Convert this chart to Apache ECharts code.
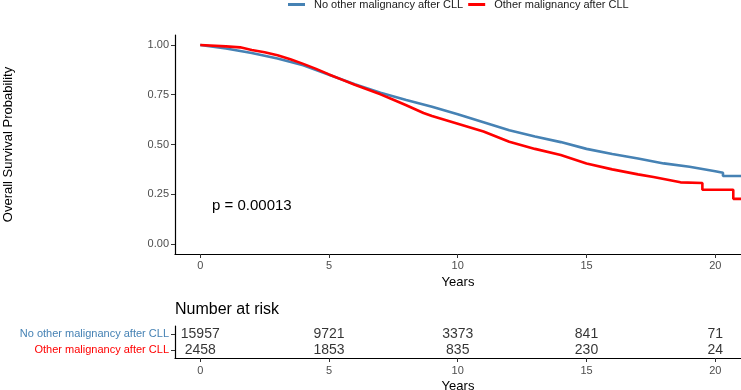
<!DOCTYPE html>
<html>
<head>
<meta charset="utf-8">
<script src="https://cdn.jsdelivr.net/npm/echarts@6/dist/echarts.min.js"></script>
<style>
  html, body { margin: 0; padding: 0; background: #fff; }
  #chart { width: 741px; height: 390px; }
</style>
</head>
<body>
<div id="chart"></div>
<script>
// survival curves (years, probability)
var noOtherTimes = [0, 1, 2, 3, 4, 5, 6, 7, 8, 9, 10, 11, 12, 13, 14, 15, 16, 17, 18, 19, 20, 20.3, 20.3, 21.05];
var noOtherSurv  = [1.0, 0.982, 0.96, 0.932, 0.898, 0.85, 0.803, 0.76, 0.724, 0.69, 0.652, 0.612, 0.572, 0.54, 0.512, 0.478, 0.452, 0.43, 0.405, 0.388, 0.366, 0.358, 0.342, 0.342];

var otherTimes = [0, 1, 1.55, 2, 2.5, 3, 3.5, 4, 4.5, 5, 5.5, 6, 6.5, 7, 7.5, 8, 8.67, 9, 10, 11, 12, 13, 14, 15, 16, 17, 17.6, 18.65, 19.5, 19.5, 20.7, 20.7, 21.05];
var otherSurv  = [1.0, 0.993, 0.988, 0.975, 0.963, 0.948, 0.928, 0.905, 0.88, 0.852, 0.826, 0.8, 0.776, 0.752, 0.725, 0.697, 0.658, 0.643, 0.604, 0.565, 0.514, 0.478, 0.447, 0.405, 0.375, 0.35, 0.337, 0.31, 0.307, 0.273, 0.273, 0.227, 0.227];

// number at risk table
var groups = ['No other malignancy after CLL', 'Other malignancy after CLL'];
var riskTimes = [0, 5, 10, 15, 20];
var riskNoOther = [15957, 9721, 3373, 841, 71];
var riskOther = [2458, 1853, 835, 230, 24];

var yTicks = [0, 0.25, 0.5, 0.75, 1];
var xTicks = [0, 5, 10, 15, 20];
var pText = 'p = 0.00013';

var blue = '#4682B4';
var red = '#FF0000';
var font = 'Liberation Sans, Arial, sans-serif';

function pairs(xs, ys) {
    var out = [];
    for (var i = 0; i < xs.length; i++) out.push([xs[i], ys[i]]);
    return out;
}

var riskData = [];
for (var i = 0; i < riskTimes.length; i++) {
    riskData.push([riskTimes[i], groups[0], riskNoOther[i]]);
    riskData.push([riskTimes[i], groups[1], riskOther[i]]);
}

function axisLine() {
    return { show: true, onZero: false, lineStyle: { color: '#000', width: 1.2 } };
}
function valueTicks(vals) {
    return { show: true, customValues: vals, length: 4, lineStyle: { color: '#333', width: 1 } };
}

var myChart = echarts.init(document.getElementById('chart'));
var option = {
    animation: false,
    backgroundColor: '#fff',
    textStyle: { fontFamily: font },
    legend: {
        left: 288,
        top: -1,
        padding: 0,
        icon: 'rect',
        itemWidth: 17,
        itemHeight: 3,
        itemGap: 5,
        textStyle: { fontSize: 11, color: '#1a1a1a', fontFamily: font, padding: [0, 0, 0, 4] },
        data: groups
    },
    graphic: [
        { type: 'text', left: 212, top: 198, style: { text: pText, fontSize: 15, fill: '#000', fontFamily: font } },
        { type: 'text', left: 175, top: 302, style: { text: 'Number at risk', fontSize: 16, fill: '#000', fontFamily: font } }
    ],
    grid: [
        { left: 175, right: 0, top: 35, height: 219, outerBoundsMode: 'none' },
        { left: 175, right: 0, top: 326, height: 32, outerBoundsMode: 'none' }
    ],
    xAxis: [
        {
            gridIndex: 0, type: 'value', min: -0.98, max: 21.0,
            name: 'Years', nameLocation: 'middle', nameGap: 22,
            nameTextStyle: { fontSize: 13, color: '#000' },
            axisLine: axisLine(),
            axisTick: valueTicks(xTicks),
            axisLabel: { customValues: xTicks, fontSize: 11, color: '#4d4d4d', margin: 6 },
            splitLine: { show: false }
        },
        {
            gridIndex: 1, type: 'value', min: -0.98, max: 21.0,
            name: 'Years', nameLocation: 'middle', nameGap: 22,
            nameTextStyle: { fontSize: 13, color: '#000' },
            axisLine: axisLine(),
            axisTick: valueTicks(xTicks),
            axisLabel: { customValues: xTicks, fontSize: 11, color: '#4d4d4d', margin: 7 },
            splitLine: { show: false }
        }
    ],
    yAxis: [
        {
            gridIndex: 0, type: 'value', min: -0.05, max: 1.05,
            name: 'Overall Survival Probability', nameLocation: 'middle', nameGap: 160, nameRotate: 90,
            nameTextStyle: { fontSize: 13, color: '#000' },
            axisLine: axisLine(),
            axisTick: valueTicks(yTicks),
            axisLabel: {
                customValues: yTicks, fontSize: 11, color: '#4d4d4d', margin: 6,
                formatter: function (v) { return v.toFixed(2); }
            },
            splitLine: { show: false }
        },
        {
            gridIndex: 1, type: 'category', inverse: true, data: groups,
            axisLine: axisLine(),
            axisTick: { show: true, alignWithLabel: true, interval: 0, length: 4, lineStyle: { color: '#333' } },
            axisLabel: {
                interval: 0, fontSize: 11, margin: 6,
                color: function (v) { return v === groups[0] ? blue : red; }
            },
            splitLine: { show: false }
        }
    ],
    series: [
        {
            name: groups[0], type: 'line', xAxisIndex: 0, yAxisIndex: 0,
            data: pairs(noOtherTimes, noOtherSurv), showSymbol: false,
            color: blue, lineStyle: { color: blue, width: 2.6 }, z: 2
        },
        {
            name: groups[1], type: 'line', xAxisIndex: 0, yAxisIndex: 0,
            data: pairs(otherTimes, otherSurv), showSymbol: false,
            color: red, lineStyle: { color: red, width: 2.6 }, z: 3
        },
        {
            type: 'scatter', xAxisIndex: 1, yAxisIndex: 1, symbolSize: 0,
            data: riskData,
            label: {
                show: true, position: 'inside', fontSize: 14, color: '#000',
                formatter: function (p) { return p.value[2]; }
            }
        }
    ]
};
myChart.setOption(option);
</script>
</body>
</html>
